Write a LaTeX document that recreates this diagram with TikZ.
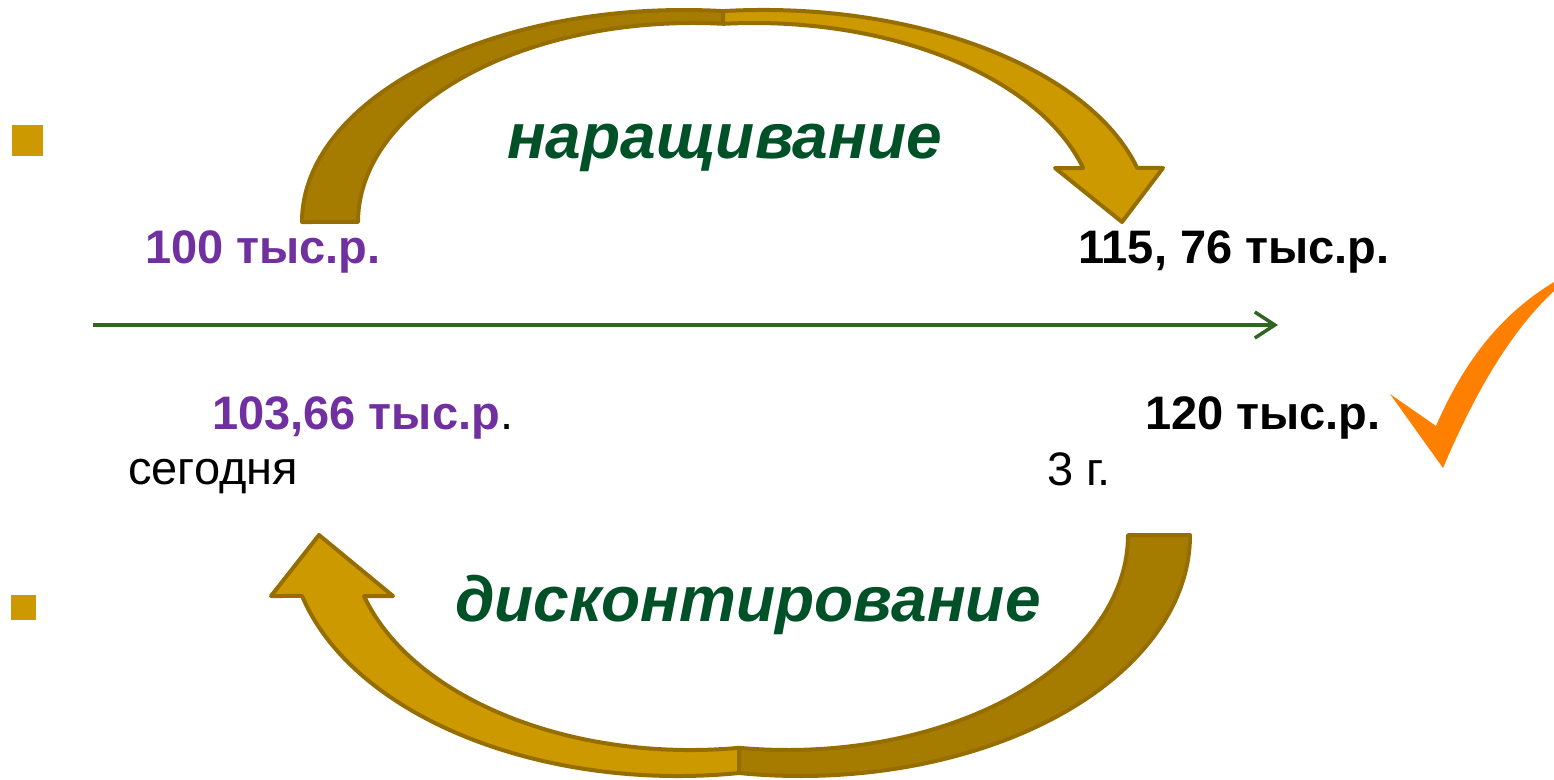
\documentclass[tikz,border=0pt]{standalone}
\usepackage{fontspec}
\setmainfont{Liberation Sans}
\usetikzlibrary{arrows.meta}
\definecolor{darkband}{RGB}{166,124,0}
\definecolor{lightband}{RGB}{204,153,0}
\definecolor{bandline}{RGB}{150,110,0}
\definecolor{sumpurple}{RGB}{112,48,160}
\definecolor{wordgreen}{RGB}{0,80,40}
\definecolor{axisgreen}{RGB}{50,100,35}
\definecolor{checkorange}{RGB}{255,128,0}
\definecolor{bulletgold}{RGB}{204,153,0}
\begin{document}
\begin{tikzpicture}[x=1pt,y=-1pt,
  band/.style={draw=bandline,line width=4pt,line join=round},
  amount/.style={anchor=base west,inner sep=0pt,font=\fontsize{47}{50}\selectfont\bfseries},
  plaintext/.style={anchor=base west,inner sep=0pt,font=\fontsize{47}{50}\selectfont},
  word/.style={anchor=base west,inner sep=0pt,text=wordgreen,font=\fontsize{64}{70}\selectfont\bfseries\itshape},
  bulletbox/.style={fill=bulletgold,draw=none}]
\useasboundingbox[fill=white] (0,0) rectangle (1554,779);

% bullets
\fill[bulletbox] (12,125) rectangle (43,156);
\fill[bulletbox] (11,595) rectangle (36,620);

% top curved arrow (наращивание)
\path[band,fill=darkband] (302,222)
  arc[start angle=180,end angle=275.89,x radius=382,y radius=212]
  -- (723.2,23.8)
  arc[start angle=275.17,end angle=180,x radius=335,y radius=199] -- cycle;
\path[band,fill=lightband] (723.2,11.1)
  arc[start angle=264.1,end angle=345.24,x radius=387,y radius=212]
  -- (1163,168) -- (1122,222) -- (1055,168) -- (1083.2,168)
  arc[start angle=344.25,end angle=264.83,x radius=342,y radius=199] -- cycle;

% bottom curved arrow (дисконтирование)
\path[band,fill=darkband] (1190,535)
  arc[start angle=0,end angle=99.07,x radius=389.6,y radius=241]
  -- (739,747.8)
  arc[start angle=98.19,end angle=0,x radius=340.5,y radius=215] -- cycle;
\path[band,fill=lightband] (739,773)
  arc[start angle=80.97,end angle=165.34,x radius=388.6,y radius=241]
  -- (271,596) -- (319,535) -- (393,596) -- (364,596)
  arc[start angle=163.52,end angle=81.81,x radius=340.5,y radius=215] -- cycle;

% time axis
\coordinate (axisstart) at (93,325);
\coordinate (axisend) at (1278,325);
\draw[axisgreen,line width=3.5pt,-{Straight Barb[length=20pt,width=26pt,line width=3.5pt]}] (axisstart) -- (axisend);

% check mark
\fill[checkorange] (1390,394) -- (1436,426)
  .. controls (1468,352) and (1508,310) .. (1554,282)
  -- (1554,291)
  .. controls (1512,330) and (1476,390) .. (1443,468)
  -- cycle;

% texts
\node[word] (grow) at (507,158) {наращивание};
\node[word] (disc) at (455,621) {дисконтирование};
\node[amount,text=sumpurple] (pv1) at (145,263) {100 тыс.р.};
\node[amount] (fv1) at (1078,263) {115, 76 тыс.р.};
\node[amount] (pv2) at (212,429) {\textcolor{sumpurple}{103,66 тыс.р}{\mdseries .}};
\node[amount] (fv2) at (1145,429) {120 тыс.р.};
\node[plaintext] (today) at (128,484) {сегодня};
\node[plaintext] (year3) at (1047,485) {3 г.};
\end{tikzpicture}
\end{document}
